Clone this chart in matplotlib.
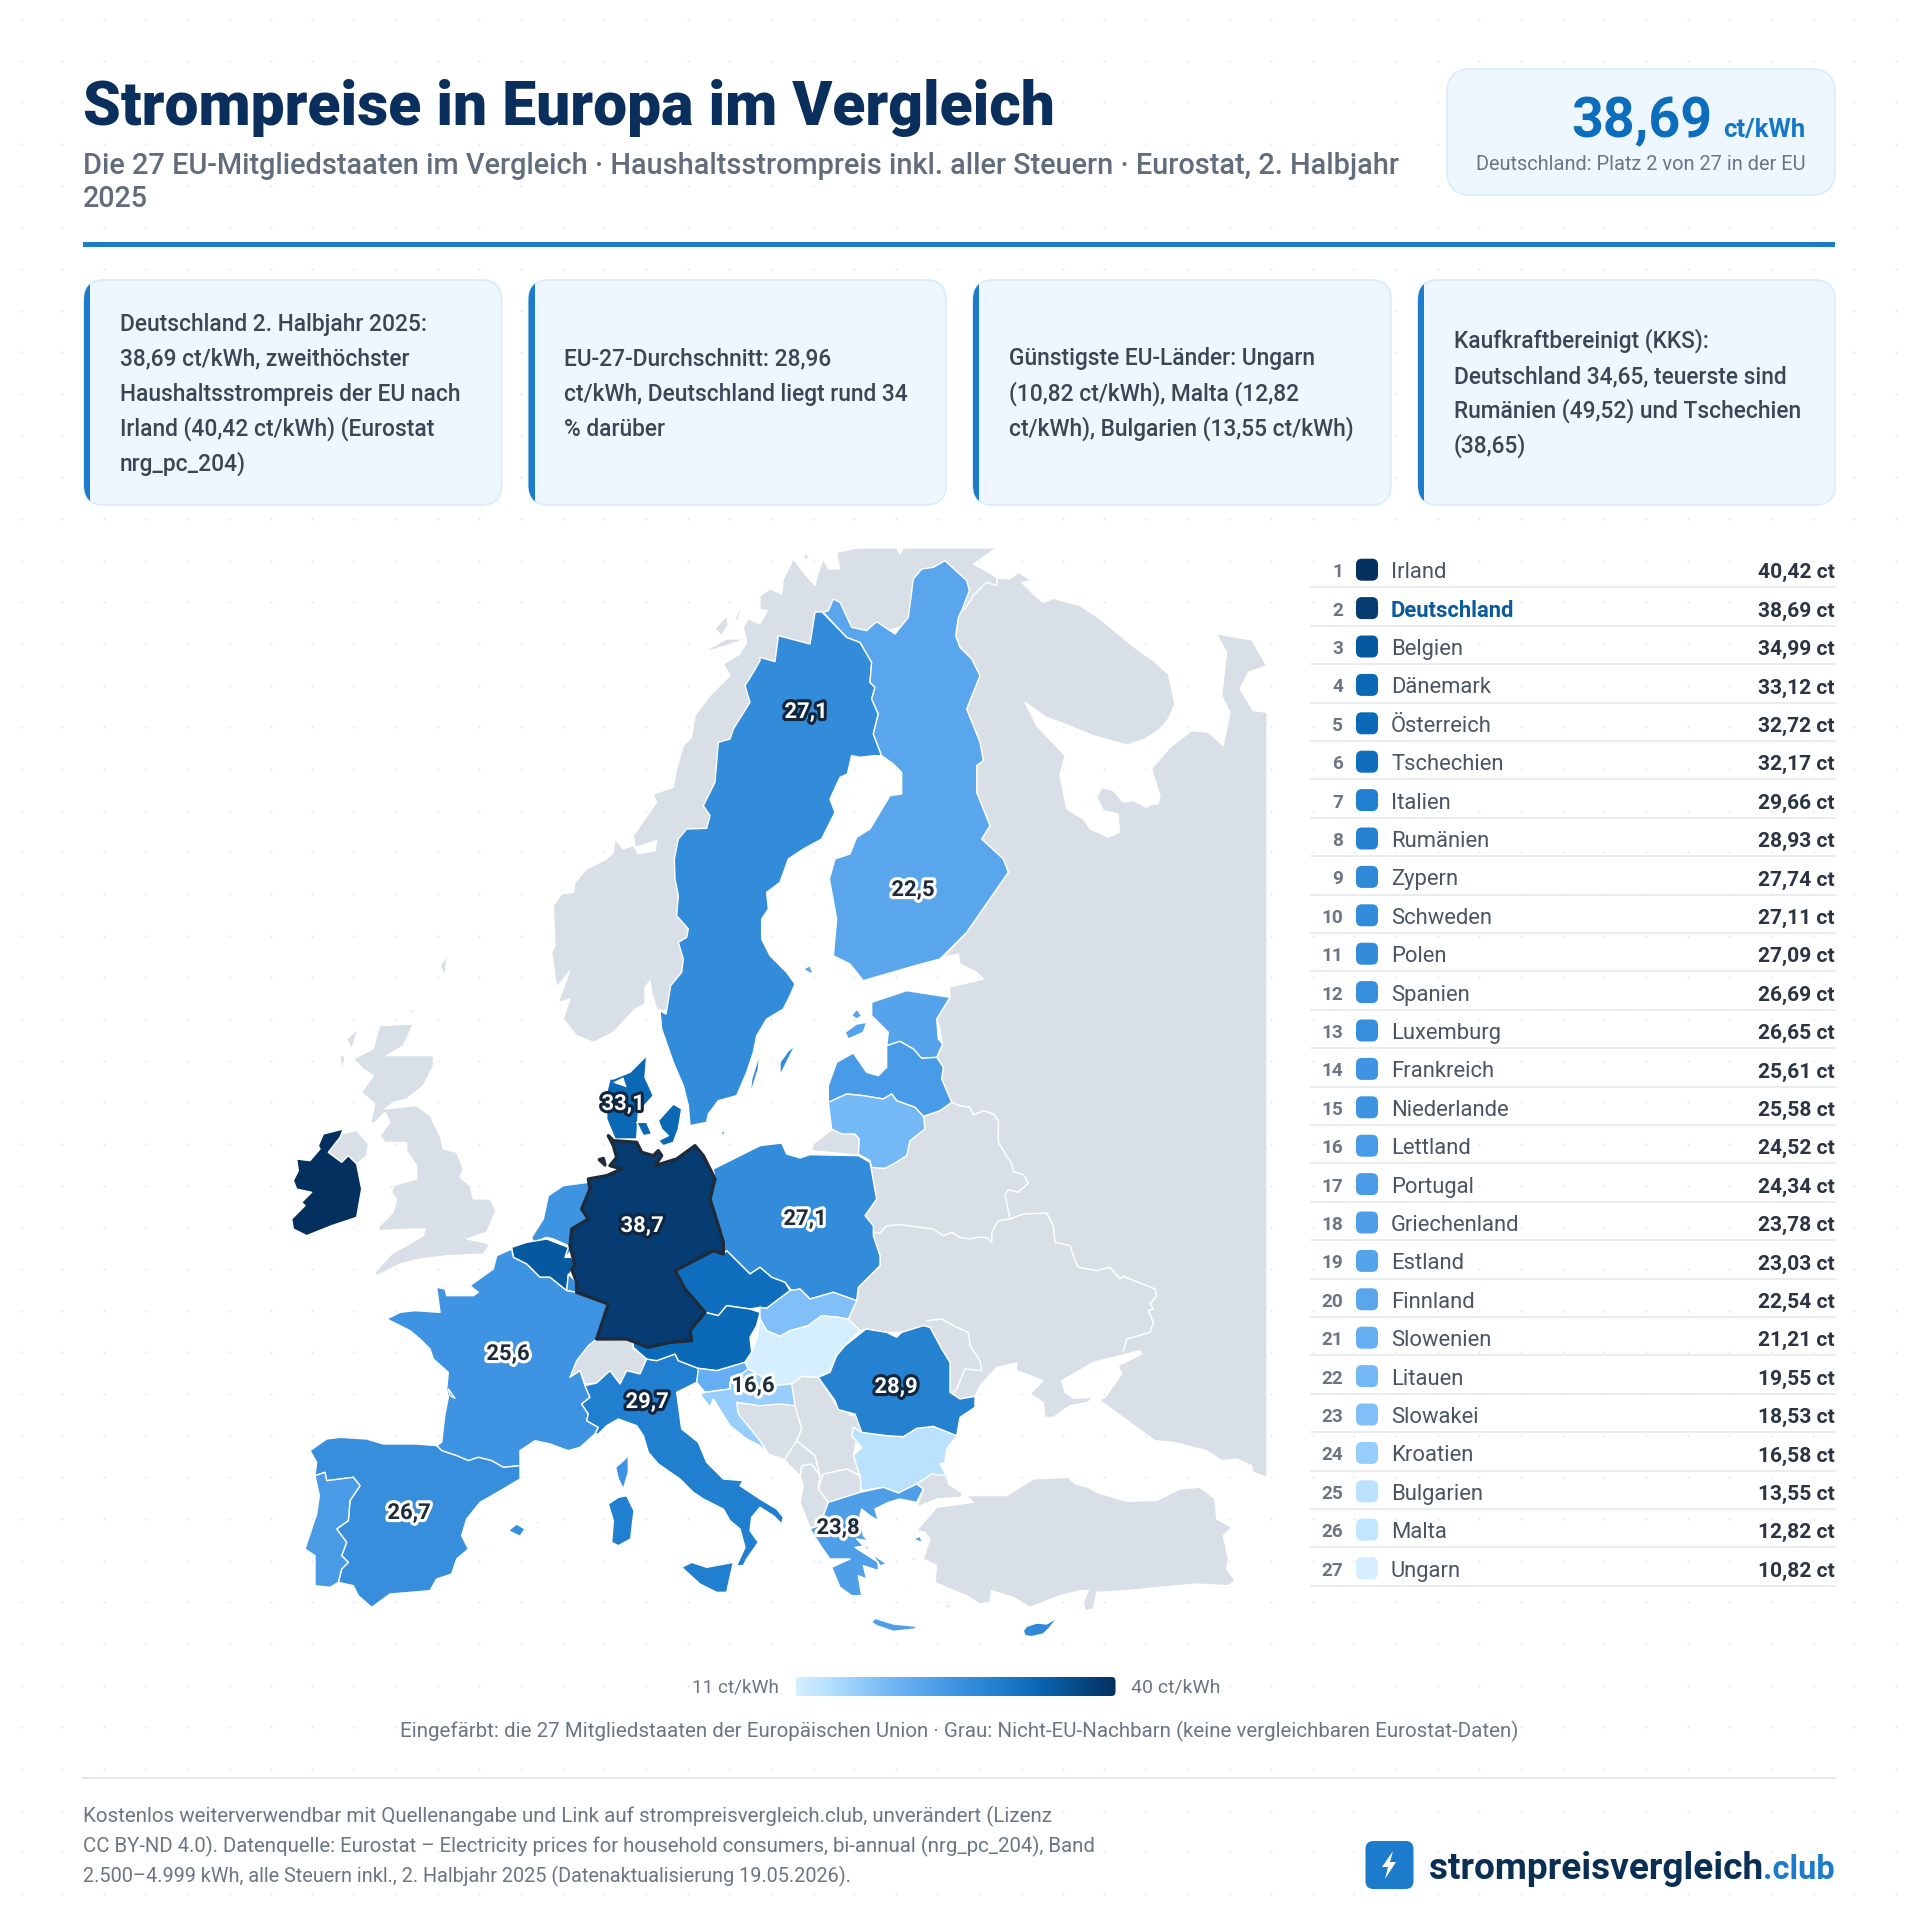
import numpy as np
import matplotlib
matplotlib.use('Agg')
from matplotlib import pyplot as plt
from matplotlib import patheffects as pe
from matplotlib.colors import LinearSegmentedColormap, Normalize
from matplotlib.patches import FancyBboxPatch, Polygon, Rectangle

# ranking table
COUNTRIES = ['Irland', 'Deutschland', 'Belgien', 'Dänemark', 'Österreich', 'Tschechien', 'Italien',
             'Rumänien', 'Zypern', 'Schweden', 'Polen', 'Spanien', 'Luxemburg', 'Frankreich',
             'Niederlande', 'Lettland', 'Portugal', 'Griechenland', 'Estland', 'Finnland',
             'Slowenien', 'Litauen', 'Slowakei', 'Kroatien', 'Bulgarien', 'Malta', 'Ungarn']
PRICES = [40.42, 38.69, 34.99, 33.12, 32.72, 32.17, 29.66, 28.93, 27.74, 27.11, 27.09, 26.69, 26.65,
          25.61, 25.58, 24.52, 24.34, 23.78, 23.03, 22.54, 21.21, 19.55, 18.53, 16.58, 13.55, 12.82, 10.82]

# colour ramp
RAMP_VALUES = [11, 14, 19.5, 25.6, 30, 33, 35, 38.7, 40.4]
RAMP_COLORS = ['#d6efff', '#b5e0ff', '#74b8f6', '#3e94e2', '#1e7dcc', '#0a69b7', '#07599f', '#063d73', '#04305f']

MAP_LABELS = [('Schweden', '27,1', 806, 713, 'w'), ('Finnland', '22,5', 913, 891, 'd'),
              ('Dänemark', '33,1', 623, 1105, 'w'), ('Deutschland', '38,7', 642, 1227, 'w'),
              ('Polen', '27,1', 805, 1220, 'd'), ('Frankreich', '25,6', 508, 1355, 'd'),
              ('Italien', '29,7', 647, 1403, 'w'), ('Kroatien', '16,6', 753, 1387, 'd'),
              ('Rumänien', '28,9', 896, 1388, 'w'), ('Spanien', '26,7', 409, 1514, 'd'),
              ('Griechenland', '23,8', 838, 1529, 'd')]

CARD_LINES = [['Deutschland 2. Halbjahr 2025:', '38,69 ct/kWh, zweithöchster', 'Haushaltsstrompreis der EU nach',
               'Irland (40,42 ct/kWh) (Eurostat', 'nrg_pc_204)'],
              ['EU-27-Durchschnitt: 28,96', 'ct/kWh, Deutschland liegt rund 34', '% darüber'],
              ['Günstigste EU-Länder: Ungarn', '(10,82 ct/kWh), Malta (12,82', 'ct/kWh), Bulgarien (13,55 ct/kWh)'],
              ['Kaufkraftbereinigt (KKS):', 'Deutschland 34,65, teuerste sind', 'Rumänien (49,52) und Tschechien', '(38,65)']]
FOOTER_LINES = ['Kostenlos weiterverwendbar mit Quellenangabe und Link auf strompreisvergleich.club, unverändert (Lizenz',
                'CC BY-ND 4.0). Datenquelle: Eurostat – Electricity prices for household consumers, bi-annual (nrg_pc_204), Band',
                '2.500–4.999 kWh, alle Steuern inkl., 2. Halbjahr 2025 (Datenaktualisierung 19.05.2026).']

Z2 = (260, 540)
Z3 = (760, 540)
Z4 = (260, 1030)
Z5 = (260, 1340)
Z6 = (760, 1030)
Z7 = (760, 1340)


def seg(origin, pts):
	return [(origin[0] + x / 3.0, origin[1] + y / 3.0) for x, y in pts]


NORWAY = seg(Z2, [(1205, 1415), (1190, 1410), (1175, 1360), (1170, 1325), (1155, 1345), (1155, 1395), (1125, 1410),
                  (1060, 1480), (1000, 1510), (950, 1490), (910, 1440), (930, 1380), (895, 1390), (930, 1295),
                  (890, 1345), (875, 1240), (885, 1220), (880, 1100), (905, 1065), (940, 1060), (945, 1030),
                  (980, 990), (1040, 960), (1060, 940), (1065, 900), (1090, 930), (1120, 920), (1135, 945),
                  (1185, 935), (1190, 905), (1125, 925), (1120, 890), (1190, 790), (1180, 765), (1240, 745),
                  (1250, 690), (1270, 620), (1295, 595), (1305, 530), (1350, 470), (1410, 410), (1390, 375),
                  (1440, 345), (1460, 310), (1450, 265), (1465, 240), (1500, 255)]) + \
         seg(Z3, [(22, 215), (0, 212), (0, 170), (30, 150), (65, 165), (70, 120), (100, 60), (130, 100), (165, 140),
                  (175, 100), (190, 60), (205, 90), (240, 90), (230, 40), (290, 27), (410, 27), (420, 45), (430, 27),
                  (710, 27), (640, 75), (710, 115), (710, 140), (680, 130), (640, 170), (615, 210), (605, 215),
                  (470, 250), (300, 300), (200, 260), (100, 400), (0, 500)]) + \
         seg(Z2, [(1400, 900), (1300, 1400)])
ISLETS = [seg(Z2, [(1290, 380), (1310, 350), (1295, 375)]),
          seg(Z2, [(1325, 342), (1400, 300), (1455, 300), (1400, 320)]),
          seg(Z2, [(1365, 270), (1400, 230), (1405, 255), (1385, 290)]),
          seg(Z2, [(1425, 240), (1445, 195), (1435, 245)]),
          seg(Z3, [(130, 40), (150, 55), (135, 65)]),
          seg(Z2, [(540, 1280), (575, 1235), (560, 1265), (555, 1310)]),
          seg(Z2, [(450, 1410), (465, 1415), (455, 1425)]),
          seg(Z4, [(240, 75), (255, 85), (245, 125)]),
          seg(Z4, [(260, 30), (295, 0), (275, 60)]),
          seg(Z4, [(390, 465), (402, 475), (392, 482)])]
RUSSIA = seg(Z3, [(605, 215), (615, 210), (640, 170), (680, 130), (710, 140), (712, 118), (750, 120), (775, 100),
                  (815, 125), (785, 130), (830, 175), (850, 190), (880, 178), (960, 200), (1020, 240), (1080, 290),
                  (1130, 330), (1180, 365), (1225, 405), (1235, 450), (1245, 495), (1225, 540), (1200, 570),
                  (1155, 600), (1100, 618), (1000, 590), (915, 555), (860, 535), (795, 490),
                  (830, 560), (915, 650), (900, 710), (920, 810), (970, 840), (990, 870), (1045, 895), (1078, 880),
                  (1075, 825), (1030, 815), (1010, 775), (1025, 745), (1060, 755), (1090, 790), (1120, 785),
                  (1160, 805), (1175, 795), (1195, 795), (1200, 770), (1175, 690), (1230, 625), (1295, 575),
                  (1345, 580), (1390, 620), (1410, 520), (1385, 470), (1400, 340), (1370, 285), (1475, 303),
                  (1520, 380), (1465, 400), (1440, 450), (1480, 515), (1521, 520)]) + \
         seg(Z7, [(1521, 415), (1480, 400), (1475, 380), (1430, 360), (1385, 365), (1340, 335), (1240, 310),
                  (1185, 305), (1130, 265), (1020, 185), (1040, 170), (1085, 105), (1075, 80), (1145, 45), (1140, 35),
                  (1000, 70), (905, 125), (915, 160), (940, 178), (995, 175), (985, 190), (930, 200), (880, 235),
                  (855, 235), (850, 190), (810, 165), (850, 125), (770, 95), (770, 72), (710, 85), (660, 140),
                  (645, 172), (600, 180), (570, 160), (570, 70), (545, 30)]) + \
         seg(Z6, [(510, 895), (490, 890), (425, 910), (380, 910), (318, 900), (300, 905), (265, 870), (290, 815),
                  (295, 775), (360, 710), (360, 680), (340, 620), (340, 590), (315, 560), (350, 510), (330, 400),
                  (335, 415), (375, 418), (400, 405), (440, 380), (450, 335), (495, 300), (490, 262), (540, 245),
                  (575, 220), (545, 150), (550, 115), (530, 85), (548, 45), (540, 0)]) + \
         seg(Z3, [(530, 1440), (570, 1375), (568, 1345), (670, 1320), (650, 1300), (600, 1275), (595, 1245), (550, 1255),
                  (620, 1180), (745, 1000), (730, 960), (665, 900), (690, 860), (670, 810), (650, 760), (650, 680),
                  (670, 665), (660, 610), (620, 510), (660, 410), (635, 360), (600, 325), (587, 290), (595, 235)])
BALKANS = seg(Z7, [(-70, 190), (0, 200), (60, 195), (105, 200), (95, 135), (125, 112), (175, 115), (230, 200),
                   (275, 230), (290, 225), (310, 280), (290, 300), (280, 350), (305, 430), (300, 460), (205, 490),
                   (190, 530), (175, 560), (150, 565), (120, 490), (130, 440), (120, 410), (70, 360), (25, 345),
                   (0, 305), (-65, 240)])
THRACE = seg(Z7, [(470, 435), (490, 450), (470, 505), (530, 480), (600, 475), (610, 465), (565, 435), (560, 410), (515, 405)])
TURKEY = seg(Z7, [(470, 575), (530, 505), (640, 490), (620, 470), (740, 470), (820, 420), (925, 415), (945, 435),
                  (985, 445), (1010, 460), (1100, 487), (1190, 485), (1260, 450), (1320, 445), (1365, 480),
                  (1370, 540), (1415, 565), (1390, 590), (1405, 660), (1400, 690), (1425, 725), (1405, 740),
                  (1310, 735), (1195, 745), (1100, 755), (1010, 760), (1000, 810), (975, 815), (970, 790), (985, 755),
                  (960, 755), (900, 770), (810, 805), (760, 775), (695, 755), (690, 790), (660, 795), (620, 770),
                  (570, 750), (525, 730), (530, 680), (490, 660), (510, 600), (495, 580)])
KALININGRAD = seg(Z6, [(215, 302), (285, 318), (298, 330), (295, 378), (155, 365), (160, 345)])
BRITAIN = seg(Z4, [(350, 20), (360, -10), (460, -15), (430, 50), (380, 80), (450, 80), (520, 80), (520, 110), (490, 170),
                   (440, 210), (400, 220), (375, 240), (470, 230), (510, 260), (540, 320), (550, 360), (590, 370),
                   (610, 420), (600, 445), (630, 470), (640, 510), (690, 510), (708, 545), (680, 610), (620, 630),
                   (690, 645), (670, 675), (560, 680), (480, 690), (420, 705), (350, 740), (345, 730), (395, 675),
                   (440, 650), (490, 620), (495, 600), (450, 600), (360, 605), (355, 595), (400, 550), (410, 510),
                   (395, 490), (400, 470), (470, 450), (470, 410), (440, 365), (440, 340), (375, 340), (360, 320),
                   (390, 280), (375, 250), (345, 280), (330, 285), (345, 225), (305, 190), (340, 140), (310, 120),
                   (280, 90), (340, 60)])
N_IRELAND = seg(Z4, [(205, 370), (240, 315), (290, 305), (325, 345), (320, 380), (290, 405), (265, 380), (245, 400)])
SWITZERLAND = seg(Z5, [(1010, 0), (1115, 5), (1120, 30), (1165, 55), (1140, 105), (1100, 95), (1080, 135), (1050, 95),
                       (1010, 132), (975, 135), (960, 95), (930, 115), (950, 65), (985, 20)])
GREY_LAND = [NORWAY, RUSSIA, BALKANS, THRACE, TURKEY, KALININGRAD, BRITAIN, N_IRELAND, SWITZERLAND] + ISLETS

# white borders between the grey neighbours
GREY_BORDERS = [seg(Z6, [(575, 220), (600, 230), (630, 235), (640, 258), (670, 245), (700, 255), (715, 275), (715, 340),
                         (755, 405), (760, 428), (790, 437), (805, 462), (775, 490), (745, 482), (735, 495), (750, 570),
                         (715, 575), (695, 610), (695, 640), (680, 625), (650, 625), (630, 630), (600, 625), (575, 610),
                         (550, 620), (520, 600), (420, 587), (380, 590), (360, 612), (340, 610)]),
                seg(Z6, [(750, 570), (790, 555), (860, 552), (880, 590), (885, 640), (930, 650), (945, 695), (955, 715),
                         (1010, 725), (1050, 715), (1080, 750), (1090, 742), (1135, 760), (1185, 780), (1190, 800),
                         (1170, 825), (1180, 840), (1165, 845), (1180, 880), (1170, 910), (1100, 930), (1090, 965)]),
                seg(Z6, [(500, 875), (545, 870), (590, 895), (625, 910), (630, 950)]) +
                seg(Z7, [(630, 20), (660, 65), (665, 95), (615, 90), (590, 150), (575, 165)]),
                seg(Z7, [(105, 200), (125, 270), (110, 305), (165, 350), (180, 410), (175, 450), (205, 490)]),
                seg(Z7, [(75, 360), (110, 305)]),
                seg(Z7, [(120, 415), (125, 380), (155, 375), (180, 410)]),
                seg(Z7, [(178, 440), (190, 405), (260, 390), (300, 410)])]

MAP_SHAPES = {
	'Irland': [seg(Z4, [(110, 390), (150, 395), (180, 360), (175, 350), (190, 315), (250, 300), (240, 325), (205, 370),
	                    (245, 400), (265, 380), (290, 405), (305, 480), (290, 565), (215, 590), (140, 620), (100, 600),
	                    (95, 570), (135, 530), (125, 520), (155, 490), (110, 480), (100, 455), (115, 425)])],
	'Dänemark': [seg(Z4, [(1060, 150), (1110, 130), (1160, 80), (1155, 145), (1180, 200), (1135, 250), (1130, 330),
	                      (1065, 330), (1040, 270), (1040, 190), (1050, 150)]),
	             seg(Z4, [(1195, 275), (1240, 225), (1265, 240), (1255, 300), (1240, 340), (1210, 350), (1195, 335),
	                      (1225, 320), (1205, 300)]),
	             seg(Z4, [(1130, 280), (1160, 280), (1175, 315), (1150, 320)]),
	             seg(Z4, [(1380, 305), (1395, 310), (1390, 320)])],
	'Schweden': [seg(Z3, [(185, 218), (260, 295), (300, 310), (335, 370), (330, 430), (345, 445), (335, 480), (355, 525),
	                      (340, 585), (365, 650), (340, 650), (300, 655), (275, 650), (262, 705), (240, 715), (210, 780),
	                      (225, 820), (185, 900), (130, 930), (85, 960), (60, 1030), (20, 1060), (25, 1110), (5, 1140),
	                      (5, 1200), (30, 1250), (80, 1300), (105, 1335), (90, 1370), (70, 1410), (20, 1440)]) +
	             seg(Z4, [(1490, 20), (1480, 70), (1460, 130), (1430, 200), (1375, 215), (1345, 255), (1340, 280),
	                      (1290, 290), (1285, 230), (1270, 170), (1240, 100), (1205, 0)]) +
	             seg(Z2, [(1200, 1415), (1218, 1425), (1232, 1340), (1265, 1300), (1270, 1260), (1255, 1210), (1280, 1195),
	                      (1285, 1170), (1250, 1130), (1255, 1070), (1245, 1020), (1243, 960), (1255, 900), (1280, 870),
	                      (1340, 868), (1350, 830), (1330, 800), (1365, 730), (1375, 610), (1410, 600), (1420, 570),
	                      (1470, 490), (1455, 440), (1480, 400), (1500, 365)]) +
	             seg(Z3, [(0, 355), (45, 368), (55, 290), (150, 315), (165, 220)]),
	             seg(Z4, [(1500, 70), (1495, 120), (1470, 200), (1475, 150)]),
	             seg(Z6, [(60, 100), (85, 65), (105, 50), (80, 100), (60, 140)])],
	'Finnland': [seg(Z3, [(190, 220), (205, 215), (220, 180), (240, 190), (275, 265), (320, 275), (350, 248), (405, 285),
	                      (445, 235), (460, 120), (485, 90), (520, 85), (555, 65), (620, 125), (628, 155), (605, 215),
	                      (595, 235), (587, 290), (600, 325), (635, 360), (660, 410), (620, 510), (660, 610), (670, 665),
	                      (650, 680), (650, 760), (670, 810), (690, 860), (665, 900), (730, 960), (745, 1000), (620, 1180),
	                      (540, 1260), (465, 1280), (310, 1325), (270, 1275), (220, 1250), (230, 1140), (208, 1020),
	                      (225, 960), (270, 945), (290, 895), (330, 870), (390, 770), (425, 765), (425, 700), (400, 675),
	                      (365, 650), (340, 585), (355, 525), (335, 480), (345, 445), (330, 430), (335, 370), (300, 310),
	                      (260, 295)]),
	             seg(Z3, [(130, 1290), (150, 1280), (160, 1305), (145, 1300)])],
	'Estland': [seg(Z3, [(335, 1390), (440, 1355), (570, 1375), (530, 1440), (535, 1500)]) +
	            seg(Z6, [(548, 45), (530, 85), (485, 88), (460, 60), (420, 37), (380, 50), (385, 10)]) +
	            seg(Z3, [(335, 1430)]),
	            seg(Z3, [(275, 1430), (290, 1410), (305, 1430), (290, 1440)]),
	            seg(Z3, [(255, 1480), (290, 1455), (320, 1450), (310, 1480), (265, 1500)])],
	'Lettland': [seg(Z6, [(380, 50), (420, 37), (460, 60), (485, 88), (530, 85), (550, 115), (545, 150), (575, 220),
	                      (540, 245), (490, 262), (465, 235), (410, 215), (395, 195), (370, 210), (310, 200), (260, 195),
	                      (205, 220), (205, 170), (230, 100), (280, 72), (320, 130), (355, 140), (380, 115)])],
	'Litauen': [seg(Z6, [(205, 220), (260, 195), (310, 200), (370, 210), (395, 195), (410, 215), (465, 235), (490, 262),
	                     (495, 300), (450, 335), (440, 380), (400, 405), (375, 418), (335, 415), (330, 395), (295, 375),
	                     (298, 330), (285, 315), (245, 315), (215, 300)])],
	'Polen': [seg(Z6, [(0, 350), (65, 342), (80, 375), (120, 387), (150, 377), (295, 380), (330, 400), (350, 510), (315, 560),
	                   (340, 590), (340, 620), (360, 680), (360, 710), (295, 775), (290, 815), (220, 790), (150, 810),
	                   (120, 780), (95, 785), (75, 760), (35, 745), (0, 715)]) +
	          seg(Z4, [(1470, 735), (1400, 665), (1390, 675), (1390, 640), (1375, 590), (1350, 510), (1365, 450), (1360, 420)])],
	'Niederlande': [seg(Z4, [(815, 625), (850, 570), (865, 500), (910, 470), (985, 460), (990, 480), (965, 540), (985, 570),
	                         (935, 600), (930, 650), (935, 665), (915, 685), (915, 665), (925, 650), (880, 630), (860, 625),
	                         (820, 640)])],
	'Belgien': [seg(Z4, [(755, 655), (800, 640), (860, 630), (925, 655), (915, 685), (935, 685), (945, 710), (925, 740),
	                     (920, 785), (870, 745), (840, 745), (800, 705), (760, 685)])],
	'Luxemburg': [seg(Z4, [(925, 735), (950, 760), (950, 790), (920, 785)])],
	'Frankreich': [seg(Z4, [(755, 660), (760, 685), (800, 705), (840, 745), (870, 745), (920, 785), (950, 790), (1045, 825),
	                        (1010, 930)]) +
	               seg(Z5, [(985, 20), (950, 65), (930, 115), (960, 95), (975, 140), (990, 175), (965, 195), (985, 225),
	                        (980, 245), (1015, 265), (1005, 285), (960, 325), (925, 335), (870, 315), (825, 305), (780, 335),
	                        (780, 380), (730, 385), (695, 365), (655, 355), (625, 365), (590, 350), (545, 335), (530, 320),
	                        (545, 310), (555, 225), (565, 175), (560, 150), (565, 100), (520, 60), (510, 30), (480, 0)]) +
	               seg(Z4, [(450, 905), (380, 870), (420, 850), (465, 845), (540, 850), (530, 775), (555, 780), (560, 800),
	                        (640, 800), (655, 790), (630, 770), (700, 720), (710, 680)]),
	               seg(Z5, [(565, 150), (585, 178), (570, 170)]),
	               seg(Z5, [(1105, 350), (1105, 400), (1090, 450), (1075, 420), (1067, 385), (1090, 365)])],
	'Spanien': [seg(Z5, [(150, 335), (200, 300), (240, 295), (320, 300), (370, 315), (470, 315), (530, 320), (545, 335),
	                     (590, 350), (625, 365), (655, 355), (695, 365), (730, 385), (780, 380), (780, 420), (730, 450),
	                     (660, 490), (620, 540), (605, 590), (625, 630), (590, 660), (575, 705), (530, 720), (510, 755),
	                     (390, 765), (335, 805), (295, 770), (280, 740), (235, 730), (245, 690), (265, 670), (245, 650),
	                     (260, 610), (230, 570), (265, 545), (270, 485), (300, 440), (280, 415), (200, 425), (195, 400),
	                     (165, 410), (170, 370)]),
	            seg(Z5, [(745, 575), (770, 555), (795, 570), (780, 592)]),
	            seg(Z5, [(820, 548), (835, 548), (838, 556)]),
	            seg(Z5, [(688, 620), (700, 612), (695, 622)])],
	'Portugal': [seg(Z5, [(165, 410), (195, 400), (200, 425), (280, 415), (300, 440), (270, 485), (265, 545), (230, 570),
	                      (260, 610), (245, 650), (265, 670), (245, 690), (235, 730), (210, 745), (165, 740), (165, 650),
	                      (135, 630), (170, 525), (178, 470)])],
	'Italien': [seg(Z5, [(975, 140), (1010, 132), (1050, 95), (1080, 135), (1100, 95), (1140, 105), (1160, 60), (1190, 65),
	                     (1245, 45), (1255, 65), (1320, 90), (1310, 130), (1250, 160), (1265, 270), (1315, 310), (1340, 370),
	                     (1390, 420), (1450, 425), (1440, 440), (1500, 480)]) +
	            seg(Z7, [(50, 510), (70, 535), (65, 555), (40, 530), (0, 505)]) +
	            seg(Z5, [(1475, 535), (1470, 575), (1495, 610), (1460, 660), (1450, 680), (1430, 680), (1455, 625), (1440, 570),
	                     (1410, 545), (1390, 510), (1330, 480), (1300, 460), (1260, 420), (1195, 375), (1165, 340), (1150, 290),
	                     (1130, 260), (1075, 240), (1040, 260), (1015, 285), (1005, 285), (1015, 265), (980, 245), (985, 225),
	                     (965, 195), (990, 175)]),
	            seg(Z5, [(1075, 475), (1100, 470), (1122, 515), (1112, 600), (1075, 620), (1055, 610), (1060, 545), (1045, 495)]),
	            seg(Z5, [(1265, 685), (1295, 670), (1340, 685), (1420, 670), (1400, 760), (1370, 760), (1320, 735)])],
	'Tschechien': [seg(Z4, [(1245, 725), (1360, 665), (1390, 675), (1400, 665), (1470, 735), (1500, 715)]) +
	               seg(Z6, [(35, 745), (75, 760), (90, 785), (50, 815), (20, 838), (0, 835)]) +
	               seg(Z4, [(1470, 840), (1400, 830), (1375, 860), (1335, 850), (1275, 780)])],
	'Österreich': [seg(Z4, [(1335, 850), (1375, 860), (1400, 830), (1470, 840), (1500, 850), (1490, 890), (1470, 925)]) +
	               seg(Z5, [(1475, 40), (1455, 70), (1370, 95), (1315, 88), (1255, 65), (1245, 45), (1190, 65), (1160, 60),
	                        (1120, 25), (1120, 0)]) +
	               seg(Z4, [(1290, 905)])],
	'Slowakei': [seg(Z6, [(0, 835), (20, 838), (50, 815), (90, 785), (120, 780), (150, 810), (220, 790), (290, 815), (265, 870),
	                      (235, 865), (185, 860), (145, 890), (90, 905), (60, 922), (20, 905), (0, 870)])],
	'Ungarn': [seg(Z6, [(0, 870), (20, 905), (60, 922), (90, 905), (145, 890), (185, 860), (235, 865), (265, 870), (300, 905),
	                    (255, 950)]) +
	           seg(Z7, [(230, 50), (210, 100), (175, 115), (125, 112), (95, 135), (40, 140), (0, 110)]) +
	           seg(Z5, [(1465, 90), (1455, 70), (1475, 40), (1490, 0)])],
	'Slowenien': [seg(Z5, [(1315, 88), (1370, 95), (1455, 70), (1465, 90), (1410, 130), (1410, 150), (1335, 160), (1310, 130)])],
	'Kroatien': [seg(Z5, [(1320, 165), (1335, 160), (1410, 150), (1410, 130), (1465, 90), (1500, 110)]) +
	             seg(Z7, [(40, 140), (95, 135), (105, 200), (60, 195), (0, 200)]) +
	             seg(Z5, [(1430, 190), (1435, 225), (1500, 305)]) +
	             seg(Z7, [(25, 345), (0, 320)]) +
	             seg(Z5, [(1460, 300), (1410, 260), (1385, 220), (1360, 180), (1350, 205)])],
	'Bulgarien': [seg(Z7, [(280, 265), (305, 280), (380, 290), (430, 293), (470, 268), (520, 262), (590, 290), (560, 330),
	                       (555, 370), (540, 375), (560, 410), (515, 405), (470, 435), (415, 462), (370, 445), (305, 455),
	                       (300, 410), (280, 350), (305, 325), (275, 290)])],
	'Rumänien': [seg(Z7, [(175, 115), (210, 100), (230, 50), (255, 20)]) +
	             seg(Z6, [(318, 900), (380, 910), (410, 925), (425, 910), (490, 890), (510, 895)]) +
	             seg(Z7, [(545, 30), (570, 70), (570, 160), (600, 180), (645, 172), (645, 205), (600, 235), (590, 290), (520, 262),
	                      (470, 268), (430, 293), (380, 290), (305, 280), (285, 225), (235, 212), (225, 185)])],
	'Griechenland': [seg(Z7, [(205, 490), (300, 460), (370, 445), (415, 462), (470, 435), (490, 450), (470, 490), (420, 480),
	                          (385, 490), (345, 510), (355, 545), (330, 530), (305, 510), (300, 530), (310, 590), (325, 605),
	                          (290, 600), (330, 640), (380, 675), (360, 680), (320, 620), (285, 625), (355, 670), (355, 695),
	                          (310, 680), (320, 720), (295, 710), (305, 770), (275, 770), (240, 745), (215, 685), (270, 660),
	                          (210, 660), (185, 625), (150, 570), (175, 560), (190, 530)]),
	                 seg(Z7, [(335, 850), (345, 838), (400, 855), (470, 862), (465, 870), (400, 877), (350, 860)]),
	                 seg(Z7, [(460, 600), (480, 592), (488, 612)]),
	                 seg(Z7, [(458, 650), (465, 660), (458, 668)]),
	                 seg(Z7, [(553, 810), (572, 785), (565, 805)]),
	                 seg(Z7, [(175, 665), (190, 670), (182, 675)]),
	                 seg(Z7, [(138, 565), (145, 580), (138, 578)]),
	                 seg(Z7, [(430, 738), (437, 742), (431, 748)])],
	'Zypern': [seg(Z7, [(790, 875), (800, 862), (830, 852), (860, 855), (892, 836), (870, 865), (850, 885), (815, 893), (795, 890)])],
	'Deutschland': [seg(Z4, [(1045, 320), (1060, 335), (1130, 340), (1145, 370), (1180, 380), (1195, 365), (1205, 380), (1185, 410),
	                         (1250, 390), (1305, 350), (1330, 380), (1355, 430), (1365, 450), (1350, 510), (1375, 590), (1390, 640),
	                         (1390, 675), (1360, 665), (1245, 725), (1275, 780), (1335, 850), (1290, 905), (1295, 935), (1230, 940),
	                         (1165, 955), (1100, 930), (1010, 930), (1045, 825), (950, 790), (950, 760), (935, 720), (945, 710),
	                         (930, 650), (935, 600), (985, 570), (965, 540), (990, 480), (985, 450), (1040, 440), (1085, 420),
	                         (1050, 410), (1070, 385), (1060, 350)]),
	                seg(Z4, [(1018, 392), (1030, 388), (1035, 408)])],
}

LIMFJORD = seg(Z4, [(1060, 160), (1090, 145), (1100, 175), (1070, 165)])
BOLT = [(1393, 1855), (1382, 1871), (1388, 1871), (1385, 1883), (1396, 1866), (1390, 1866)]

BODY = 'Roboto'
HEAD = 'Roboto'
NAVY = '#0a2f5c'
BLUE = '#1c7ccb'
GREY_TEXT = '#6b7684'
CARD_BG = '#eef7ff'
CARD_EDGE = '#d9ecfb'
RIGHT = 1835

cmap = LinearSegmentedColormap.from_list('strom', [((v - 11) / (40.4 - 11), c) for v, c in zip(RAMP_VALUES, RAMP_COLORS)])
norm = Normalize(11, 40.4)
price_of = dict(zip(COUNTRIES, PRICES))

fig = plt.figure(figsize=(19.2, 19.33), dpi=100, facecolor='white')
ax = fig.add_axes([0, 0, 1, 1])
ax.set_xlim(0, 1920)
ax.set_ylim(1933, 0)
ax.axis('off')
renderer = fig.canvas.get_renderer()


def put(x, y, s, size, color, weight='normal', ha='left', family=BODY, width=None, zorder=10):
	t = ax.text(x, y, s, fontsize=size * 0.72, color=color, fontweight=weight, ha=ha, va='baseline', family=family, zorder=zorder)
	if width is not None:
		t.set_fontsize(t.get_fontsize() * width / t.get_window_extent(renderer).width)
	return t


def card(x0, y0, x1, y1, radius):
	box = FancyBboxPatch((x0, y0), x1 - x0, y1 - y0, boxstyle='round,pad=0,rounding_size=%d' % radius,
	                     fc=CARD_BG, ec=CARD_EDGE, lw=1.2, zorder=3)
	ax.add_patch(box)
	return box


# dotted paper background
gx, gy = np.meshgrid(np.arange(20.8, 1920, 41.67), np.arange(20, 1933, 41.67))
ax.scatter(gx.ravel(), gy.ravel(), s=2.5, color='#e4ecf2', lw=0, zorder=1)

# header
put(83, 125, 'Strompreise in Europa im Vergleich', 60, NAVY, 'black', family=HEAD, width=973)
put(83, 174, 'Die 27 EU-Mitgliedstaaten im Vergleich · Haushaltsstrompreis inkl. aller Steuern · Eurostat, 2. Halbjahr',
    30, '#616d7c', 'medium', width=1317)
put(83, 207, '2025', 30, '#616d7c', 'medium', width=65)
card(1447, 70, RIGHT, 196, 24)
put(1712, 137, '38,69', 58, '#0b6dbb', 'bold', ha='right', family=HEAD, width=141)
put(1805, 137, 'ct/kWh', 24, '#1577c6', 'bold', ha='right', width=82)
put(1805, 170, 'Deutschland: Platz 2 von 27 in der EU', 20, GREY_TEXT, ha='right', width=329)
ax.add_patch(Rectangle((83, 243), RIGHT - 83, 5, fc='#1f7cc6', ec='none', zorder=3))

# key fact cards
CARD_X = [(84, 501.5), (528.5, 946), (973, 1391), (1418, RIGHT)]
for (x0, x1), lines in zip(CARD_X, CARD_LINES):
	box = card(x0, 281, x1, 506, 20)
	accent = Rectangle((x0 - 1, 281), 7, 225, fc=BLUE, ec='none', zorder=4)
	ax.add_patch(accent)
	accent.set_clip_path(box)
	first = 393.5 - 17.5 * (len(lines) - 1) + 7
	for i, line in enumerate(lines):
		put(x0 + 36, first + 35 * i, line, 22.8, '#3a4654', 'medium')

# map
for shape in GREY_LAND:
	ax.add_patch(Polygon(shape, closed=True, fc='#d9dfe6', ec='white', lw=0.9, joinstyle='round', zorder=4))
for line in GREY_BORDERS:
	xs, ys = zip(*line)
	ax.plot(xs, ys, color='white', lw=1.1, solid_joinstyle='round', zorder=4.5)
for name, parts in MAP_SHAPES.items():
	hero = name == 'Deutschland'
	for part in parts:
		ax.add_patch(Polygon(part, closed=True, fc=cmap(norm(price_of[name])), ec='#1e2b3a' if hero else 'white',
		                     lw=2.4 if hero else 1.0, joinstyle='round', zorder=6 if hero else 5))
ax.add_patch(Polygon(LIMFJORD, closed=True, fc='white', ec='none', zorder=5.5))
for name, label, x, y, style in MAP_LABELS:
	fg, halo = ('white', '#10263f') if style == 'w' else ('#1e2b3a', 'white')
	t = ax.text(x, y, label, fontsize=22 * 0.72, color=fg, fontweight='bold', family=BODY, ha='center', va='center', zorder=8)
	t.set_path_effects([pe.withStroke(linewidth=4.5, foreground=halo)])

# ranking
ROW_Y = 570.7
ROW_STEP = 38.4
for i, (name, price) in enumerate(zip(COUNTRIES, PRICES)):
	y = ROW_Y + ROW_STEP * i
	put(1343, y + 6.5, str(i + 1), 19, GREY_TEXT, 'bold', ha='right')
	ax.add_patch(FancyBboxPatch((1356, y - 11), 22, 22, boxstyle='round,pad=0,rounding_size=6',
	                            fc=cmap(norm(price)), ec='none', zorder=3))
	if name == 'Deutschland':
		put(1391, y + 7.5, name, 22, '#0a5a9c', 'bold')
	else:
		put(1391, y + 7.5, name, 22, '#4a5563')
	put(RIGHT, y + 7.5, ('%.2f ct' % price).replace('.', ','), 21, '#2a3442', 'bold', ha='right')
	ax.plot([1311, RIGHT], [y + 17.6, y + 17.6], color='#e3e8ee', lw=1.1, zorder=2)

# colour legend
gradient = np.linspace(0, 1, 256)[None, :]
bar = ax.imshow(gradient, cmap=cmap, extent=(795.5, 1115.5, 1697, 1678), aspect='auto', zorder=3)
legend_box = FancyBboxPatch((795.5, 1678), 320, 19, boxstyle='round,pad=0,rounding_size=4', fc='none', ec='none',
                            transform=ax.transData)
ax.add_patch(legend_box)
bar.set_clip_path(legend_box)
ax.set_xlim(0, 1920)
ax.set_ylim(1933, 0)
put(779, 1693, '11 ct/kWh', 19, GREY_TEXT, ha='right')
put(1131, 1693, '40 ct/kWh', 19.5, GREY_TEXT)
put(959, 1737, 'Eingefärbt: die 27 Mitgliedstaaten der Europäischen Union · Grau: Nicht-EU-Nachbarn (keine vergleichbaren Eurostat-Daten)',
    20, GREY_TEXT, ha='center', width=1118)

# footer
ax.plot([83, RIGHT], [1779, 1779], color='#e3e8ee', lw=1.4, zorder=2)
for i, line in enumerate(FOOTER_LINES):
	put(83, 1822 + 30 * i, line, 19.5, GREY_TEXT, width=[975, 1017, 772][i])
ax.add_patch(FancyBboxPatch((1365.5, 1842), 48, 48, boxstyle='round,pad=0,rounding_size=8', fc=BLUE, ec='none', zorder=3))
ax.add_patch(Polygon([(x, y - 3) for x, y in BOLT], closed=True, fc='white', ec='none', zorder=4))
put(RIGHT, 1879, '.club', 38, BLUE, 'bold', ha='right', family=HEAD, width=72)
put(1763, 1879, 'strompreisvergleich', 38, '#0a2f55', 'bold', ha='right', family=HEAD, width=334)

fig.savefig('out.png', dpi=100, facecolor='white')
